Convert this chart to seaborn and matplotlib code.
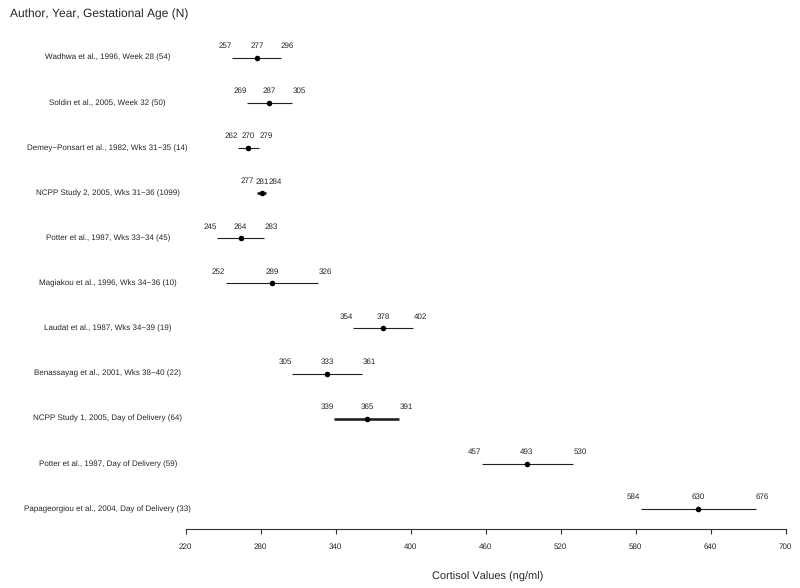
import matplotlib
matplotlib.use("Agg")
import matplotlib.pyplot as plt
import matplotlib.transforms as mtransforms
import seaborn as sns
import pandas as pd

studies = [
    "Wadhwa et al., 1996, Week 28 (54)",
    "Soldin et al., 2005, Week 32 (50)",
    "Demey\u2212Ponsart et al., 1982, Wks 31\u221235 (14)",
    "NCPP Study 2, 2005, Wks 31\u221236 (1099)",
    "Potter et al., 1987, Wks 33\u221234 (45)",
    "Magiakou et al., 1996, Wks 34\u221236 (10)",
    "Laudat et al., 1987, Wks 34\u221239 (19)",
    "Benassayag et al., 2001, Wks 38\u221240 (22)",
    "NCPP Study 1, 2005, Day of Delivery (64)",
    "Potter et al., 1987, Day of Delivery (59)",
    "Papageorgiou et al., 2004, Day of Delivery (33)",
]
means = [277, 287, 270, 281, 264, 289, 378, 333, 365, 493, 630]
lowers = [257, 269, 262, 277, 245, 252, 354, 305, 339, 457, 584]
uppers = [296, 305, 279, 284, 283, 326, 402, 361, 391, 530, 676]
thick = [False, False, False, True, False, False, False, False, True, False, False]
xticks = [220, 280, 340, 400, 460, 520, 580, 640, 700]

df = pd.DataFrame({"study": studies, "mean": means, "lo": lowers, "hi": uppers,
                   "row": range(len(studies))})

sns.set_theme(style="white")
plt.rcParams["font.family"] = ["Liberation Sans", "DejaVu Sans"]
plt.rcParams["text.hinting"] = "no_hinting"
plt.rcParams["text.hinting_factor"] = 1

W, H = 800, 588
fig = plt.figure(figsize=(W / 100, H / 100), dpi=100)
ax_left, ax_right = 185.7, 785.7
ax = fig.add_axes([ax_left / W, (H - 529.3) / H, (ax_right - ax_left) / W,
                   (529.3 - 30) / H])
xmin, xmax = 220, 700
pxu = (ax_right - ax_left) / (xmax - xmin)

lw = [1.9 if t else 0.8 for t in thick]
ax.hlines(df["row"], df["lo"], df["hi"], colors="#222222", linewidths=lw, zorder=2)
sns.scatterplot(data=df, x="mean", y="row", color="black", s=16, marker="o",
                edgecolor="black", linewidth=0, ax=ax, zorder=3, legend=False)

pt = 0.72  # points per pixel at 100 dpi
dy = 11.7 * pt
fs_num = 6.1
for _, r in df.iterrows():
    m, lo, hi, row = r["mean"], r["lo"], r["hi"], r["row"]
    off_lo = min(-7.0, (m - lo) * pxu - 15.0)
    off_hi = max(7.0, 13.0 - (hi - m) * pxu)
    ax.annotate(f"{m}", (m, row), xytext=(0, dy), textcoords="offset points",
                ha="center", va="center", fontsize=fs_num)
    ax.annotate(f"{lo}", (lo, row), xytext=(off_lo * pt, dy),
                textcoords="offset points", ha="center", va="center",
                fontsize=fs_num)
    ax.annotate(f"{hi}", (hi, row), xytext=(off_hi * pt, dy),
                textcoords="offset points", ha="center", va="center",
                fontsize=fs_num)

trans = mtransforms.blended_transform_factory(fig.transFigure, ax.transData)
for _, r in df.iterrows():
    ax.text(107.7 / W, r["row"], r["study"], transform=trans, ha="center",
            va="center", fontsize=6.0)

ax.set_xlim(xmin, xmax)
ax.set_ylim(10.45, -0.614)
ax.set_xticks(xticks)
ax.set_xticklabels([str(t) for t in xticks], fontsize=6.0)
ax.set_yticks([])
ax.set_xlabel("")
ax.set_ylabel("")
for s in ["top", "right", "left"]:
    ax.spines[s].set_visible(False)
ax.spines["bottom"].set_color("#333333")
ax.spines["bottom"].set_linewidth(0.8)
ax.tick_params(axis="x", direction="out", length=3.6, width=0.8, color="#333333",
               bottom=True, pad=6)

fig.text(10 / W, 1 - 14 / H, "Author, Year, Gestational Age (N)", ha="left",
         va="center", fontsize=8.3)
fig.text(487.5 / W, 1 - 577 / H, "Cortisol Values (ng/ml)", ha="center",
         va="center", fontsize=8.0)

fig.savefig("out.png", dpi=100)
